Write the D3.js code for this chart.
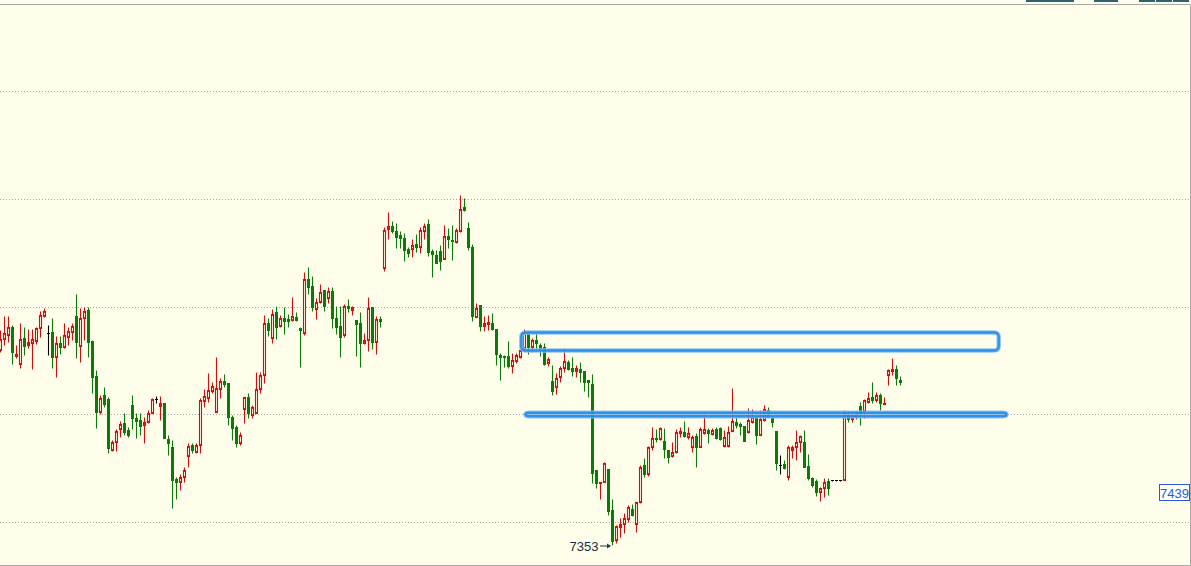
<!DOCTYPE html>
<html><head><meta charset="utf-8">
<script src="https://cdn.jsdelivr.net/npm/d3@7/dist/d3.min.js"></script>
<style>html,body{margin:0;padding:0;background:#fffeea;overflow:hidden}svg{display:block}</style>
</head><body><svg id="c" width="1191" height="566"></svg>
<script>
const opens=[
7450.5,7456,7458,7462,7447.5,7443.5,7456.5,7453,7454,7455,
7461.5,7467.5,7459,7459.5,7447,7454,7452,7457,7459.5,7467.5,
7452.5,7466.5,7470.5,7455,7437.5,7419.5,7428,7426,7400.5,7404.5,
7411,7414,7410.5,7423,7416.5,7415.5,7413,7414.5,7419,7426,
7422.5,7424,7406,7402,7386,7384.5,7387,7397.5,7403,7399.5,
7403,7425,7426.5,7430,7419.5,7431,7435,7434,7417,7412,
7404,7421,7427,7418,7419,7431,7438,7464,7456.5,7469.5,
7462.5,7466.5,7466,7465.5,7467,7461.5,7459,7486,7482.5,7471,
7474.5,7480.5,7476.5,7480,7466.5,7462.5,7458,7472.5,7470.5,7465.5,
7464,7454,7455.5,7472,7454.5,7466,7491.5,7511,7512.5,7510,
7508,7506.5,7501,7501,7503.5,7502,7510,7513.5,7500,7498,
7500,7496,7507.5,7505.5,7504.5,7510,7522,7511.5,7502,7467,
7473,7462.5,7463.5,7464,7461,7448,7447.5,7447.5,7442.5,7445,
7447,7451.5,7459,7452,7455.5,7453,7452,7444,7435,7432,
7437,7441.5,7444.5,7441.5,7440,7441,7440,7435.5,7433.5,7390.5,
7384,7384.5,7391,7370.5,7355.5,7362,7363.5,7366,7371,7363.5,
7374.5,7393,7388.5,7402,7406.5,7406,7405,7400.5,7397.5,7399.5,
7409,7409.5,7407,7402,7407.5,7402,7409,7410.5,7408.5,7411,
7411.5,7402.5,7402.5,7410,7414.5,7413.5,7412.5,7409.5,7414.5,7417,
7408,7415.5,7420.5,7417,7410,7393,7393.5,7387,7400.5,7402,
7404.5,7404.5,7392.5,7386.5,7385,7379.5,7381.5,7385,7385.5,7385.5,
7385.5,7385.5,7418.5,7416,7417,7422.5,7420,7424.5,7427,7425.5,
7428,7423.5,7438,7440,7441,7435.5];
const highs=[
7460.5,7467.5,7467.5,7463,7453,7464,7462,7461,7461,7462,
7470,7471.5,7463,7466.5,7457.5,7457.5,7464,7462,7464,7478.5,
7471.5,7472,7472,7455.5,7440.5,7428,7432,7427,7405.5,7411,
7415,7419,7412,7428,7419,7419,7417,7420.5,7426.5,7427.5,
7427.5,7424,7408,7405.5,7387,7388.5,7392,7404,7404,7404,
7426.5,7431,7439,7434.5,7447,7436.5,7438.5,7434,7418,7413,
7409.5,7427,7429,7423,7439.5,7439.5,7468,7466.5,7471,7472.5,
7468,7472,7468.5,7477,7469.5,7462,7489.5,7492,7487.5,7476.5,
7483.5,7480.5,7482,7482,7472.5,7472.5,7473.5,7476,7472.5,7465.5,
7469.5,7459,7477,7472,7467.5,7467.5,7512,7519.5,7515,7514,
7510,7509,7502,7506,7508.5,7512,7514,7516,7501,7500.5,
7503,7513,7511.5,7513,7511.5,7528,7526.5,7514.5,7503.5,7474,
7473,7467.5,7468,7469,7461,7449,7448,7455,7449,7449,
7451.5,7461,7459.5,7456.5,7459,7454,7454,7447,7443,7439,
7442.5,7451.5,7445.5,7447,7443,7444.5,7440,7435.5,7438.5,7390.5,
7384.5,7394.5,7391,7376,7363,7366.5,7369,7373,7373.5,7374.5,
7393,7396.5,7402.5,7412,7411,7412,7411.5,7400.5,7404.5,7411,
7412,7415,7412,7408,7409,7412,7419,7411.5,7411.5,7412,
7412,7410.5,7412.5,7431.5,7417,7414.5,7412.5,7421.5,7421,7417.5,
7420.5,7423,7422,7417,7410,7398,7395.5,7403,7403,7410.5,
7408,7410.5,7398.5,7387,7386,7382,7386.5,7386.5,7385.5,7385.5,
7385.5,7420.5,7420,7419.5,7420,7424.5,7426,7429.5,7434.5,7429.5,
7429,7427,7441,7446.5,7443,7437.5];
const lows=[
7449.5,7453,7454.5,7443.5,7446.5,7441.5,7448,7451.5,7441,7453.5,
7457,7467,7448,7441.5,7437,7448.5,7451.5,7453,7455.5,7446.5,
7444.5,7455.5,7447,7429,7411.5,7418.5,7422,7399,7400,7400,
7407,7408,7407,7411,7406.5,7408,7404,7414,7419,7424,
7415.5,7406.5,7398,7371.5,7376,7380.5,7384.5,7392,7399,7399,
7399,7422,7424.5,7429,7419.5,7426.5,7432,7413,7405.5,7402,
7403,7414,7416.5,7416.5,7419,7429,7434,7457.5,7454,7456,
7462,7458.5,7462,7465,7465,7442,7458,7478.5,7470,7466,
7474,7470,7474,7461.5,7458.5,7447,7457,7469.5,7468,7447.5,
7442,7453.5,7450,7451,7448.5,7462,7490,7506,7509,7501.5,
7501.5,7495,7497,7497,7499.5,7499,7506,7497.5,7487,7494,
7490.5,7496,7501.5,7495.5,7504,7509.5,7520,7500.5,7465,7467,
7460,7460,7460.5,7460.5,7443,7435.5,7442,7441.5,7439,7444,
7446.5,7450.5,7448.5,7449.5,7451,7447.5,7443,7442.5,7428,7428.5,
7434.5,7439.5,7440.5,7437.5,7437,7434.5,7430,7427,7384,7381.5,
7376,7384.5,7368,7353,7354,7357,7359,7364.5,7367.5,7359.5,
7374,7387,7387.5,7400.5,7404.5,7405.5,7396.5,7394,7397,7399,
7407,7407,7406,7399.5,7392,7402,7408.5,7404,7408,7406,
7405.5,7402,7402,7410,7411.5,7408,7405,7409,7414,7403.5,
7408,7415,7417,7412,7390.5,7388.5,7391,7385.5,7396.5,7395.5,
7399.5,7392,7385.5,7382,7377.5,7375,7377,7378,7385.5,7385.5,
7385.5,7385.5,7414.5,7414.5,7416,7413,7416.5,7424,7424,7424.5,
7420.5,7423.5,7433,7438,7433,7433];
const closes=[
7456,7459,7462,7449.5,7448.5,7456,7452.5,7454.5,7456,7461.5,
7468,7470,7459,7447,7454,7452,7458,7460,7462.5,7454.5,
7466.5,7470,7454.5,7437,7419.5,7426.5,7423.5,7401.5,7404.5,7410,
7413.5,7409.5,7408,7416.5,7415,7412.5,7414.5,7419,7426,7426,
7424,7406.5,7404,7385.5,7384.5,7387,7390.5,7402.5,7400.5,7403,
7425.5,7427.5,7430.5,7432.5,7431.5,7435,7433.5,7417,7411.5,7404,
7408,7427,7419,7422,7431,7438,7464,7460.5,7468.5,7462,
7466.5,7465,7465,7467.5,7465.5,7460.5,7486,7482,7472,7474.5,
7479.5,7472.5,7480,7466.5,7462,7457,7472.5,7471.5,7472,7463.5,
7454,7455.5,7471.5,7454.5,7466,7465,7510.5,7512.5,7510,7507,
7506.5,7500.5,7499,7503,7502,7510.5,7512.5,7499.5,7498.5,7494,
7495,7507.5,7506,7505,7510.5,7521,7520.5,7502,7467.5,7471.5,
7462.5,7464,7464.5,7461,7448.5,7447,7447,7442.5,7445.5,7448,
7450.5,7459,7452,7455.5,7454,7451.5,7443.5,7446,7430,7436.5,
7441.5,7445,7441,7440,7441.5,7439.5,7434.5,7434.5,7389,7384,
7384.5,7394,7370,7355,7362.5,7363.5,7366.5,7372,7368,7374.5,
7392,7388.5,7402,7406.5,7406,7411.5,7401,7397,7399.5,7409.5,
7410,7407.5,7409,7407,7402,7411,7411,7409,7410.5,7406.5,
7406,7407,7409.5,7415,7413,7412.5,7405,7415.5,7417,7408,
7416,7421,7417,7414.5,7394,7393,7391.5,7402,7402,7404.5,
7407.5,7392,7386.5,7383,7379.5,7381.5,7384.5,7381.5,7385.5,7385.5,
7385.5,7419,7416,7418,7419,7419,7425.5,7426.5,7425.5,7428,
7424,7424,7440.5,7441,7436.5,7434.5];

const gridPrices=[7365,7419,7472.5,7526.5,7580.5];
const lowLabel={index:153, price:7353, text:"7353"};
const lastPriceText="7439";
const zoneFrom=[130.2,131.25];
const zoneTo=[249.55,251.5];
const zoneTop=[7459.5,7419.4];
const zoneBottom=[7450.5,7417.6];

const W=1191,H=566;
const BG="#fffeea", RED="#cc0f0f", GREEN="#0a7a0a";
const n=Math.min(opens.length,highs.length,lows.length,closes.length);
const data=d3.range(n).map(i=>({i,o:opens[i],h:highs[i],l:lows[i],c:closes[i]}));

const x=d3.scaleLinear().domain([0,1]).range([0.5,4.5]);
const y=d3.scaleLinear().domain([7353,7623.5]).range([545.5,4.5]);

const svg=d3.select("#c");
svg.append("rect").attr("width",W).attr("height",H).attr("fill",BG);

const grid=svg.append("g")
  .call(d3.axisRight(y).tickValues(gridPrices).tickSize(W-2).tickFormat(""));
grid.select(".domain").remove();
grid.selectAll(".tick line").attr("stroke","#a8a8a4").attr("stroke-dasharray","1,2").attr("shape-rendering","crispEdges");

svg.append("line").attr("x1",0).attr("x2",1190.5).attr("y1",4.5).attr("y2",4.5).attr("stroke","#a9a9a9");
svg.append("line").attr("x1",1190.5).attr("x2",1190.5).attr("y1",4.5).attr("y2",566).attr("stroke","#a9a9a9");
svg.append("line").attr("x1",0).attr("x2",1190.5).attr("y1",565.5).attr("y2",565.5).attr("stroke","#a9a9a9");

const tabs=[[1026,1074],[1094,1118],[1139,1155],[1156,1172],[1173,1189]];
svg.selectAll("rect.tab").data(tabs).join("rect").attr("class","tab")
  .attr("x",d=>d[0]).attr("y",0).attr("width",d=>d[1]-d[0]).attr("height",2).attr("fill","#2c6272");

const g=svg.append("g");
const col=d=>d.c>d.o?RED:(d.c<d.o?GREEN:"#000");
g.selectAll("line.wick").data(data).join("line").attr("class","wick")
  .attr("x1",d=>x(d.i)).attr("x2",d=>x(d.i))
  .attr("y1",d=>y(d.h)).attr("y2",d=>Math.max(y(d.l),y(d.h)+1))
  .attr("stroke",col).attr("stroke-width",1.1);
g.selectAll("rect.up").data(data.filter(d=>d.c>d.o)).join("rect").attr("class","up")
  .attr("x",d=>x(d.i)-1).attr("width",2)
  .attr("y",d=>y(d.c)).attr("height",d=>Math.max(1,y(d.o)-y(d.c)))
  .attr("fill",BG).attr("stroke",RED).attr("stroke-width",1.1);
g.selectAll("rect.dn").data(data.filter(d=>d.c<d.o)).join("rect").attr("class","dn")
  .attr("x",d=>x(d.i)-1.5).attr("width",3)
  .attr("y",d=>y(d.o)-0.5).attr("height",d=>Math.max(1.5,y(d.c)-y(d.o)+1))
  .attr("fill",GREEN);
g.selectAll("line.doji").data(data.filter(d=>d.c===d.o)).join("line").attr("class","doji")
  .attr("x1",d=>x(d.i)-1.5).attr("x2",d=>x(d.i)+1.5)
  .attr("y1",d=>y(d.o)).attr("y2",d=>y(d.o))
  .attr("stroke","#000").attr("stroke-width",1);

const zones=zoneFrom.map((f,k)=>({f,t:zoneTo[k],top:zoneTop[k],bot:zoneBottom[k]}));
const zg=svg.append("g").attr("opacity",0.93);
zg.selectAll("rect.halo").data(zones).join("rect").attr("class","halo")
  .attr("x",d=>x(d.f)).attr("width",d=>x(d.t)-x(d.f))
  .attr("y",d=>y(d.top)).attr("height",d=>y(d.bot)-y(d.top))
  .attr("rx",4).attr("fill","none").attr("stroke","#8cc4f2").attr("stroke-width",4.5);
zg.selectAll("rect.main").data(zones).join("rect").attr("class","main")
  .attr("x",d=>x(d.f)).attr("width",d=>x(d.t)-x(d.f))
  .attr("y",d=>y(d.top)).attr("height",d=>y(d.bot)-y(d.top))
  .attr("rx",4).attr("fill","none").attr("stroke","#2288e8").attr("stroke-width",2.4);

const lx=x(lowLabel.index)-1.5, ly=y(lowLabel.price)+0.5;
svg.append("line").attr("x1",lx-11).attr("x2",lx-1).attr("y1",ly).attr("y2",ly).attr("stroke","#25364c").attr("stroke-width",1);
svg.append("path").attr("d",`M${lx},${ly} l-4,-2.5 l0,5 z`).attr("fill","#25364c");
svg.append("text").attr("x",lx-12.5).attr("y",ly+5).attr("text-anchor","end")
  .attr("font-family","Liberation Sans, Arial, sans-serif").attr("font-size",13).attr("fill","#1c2b40")
  .text(lowLabel.text);

svg.append("rect").attr("x",1159.5).attr("y",484.5).attr("width",30).attr("height",16)
  .attr("fill","#ffffff").attr("stroke","#2a5bd7");
svg.append("text").attr("x",1174.5).attr("y",497.5).attr("text-anchor","middle")
  .attr("font-family","Liberation Sans, Arial, sans-serif").attr("font-size",13).attr("fill","#2a5bd7")
  .text(lastPriceText);
</script></body></html>
